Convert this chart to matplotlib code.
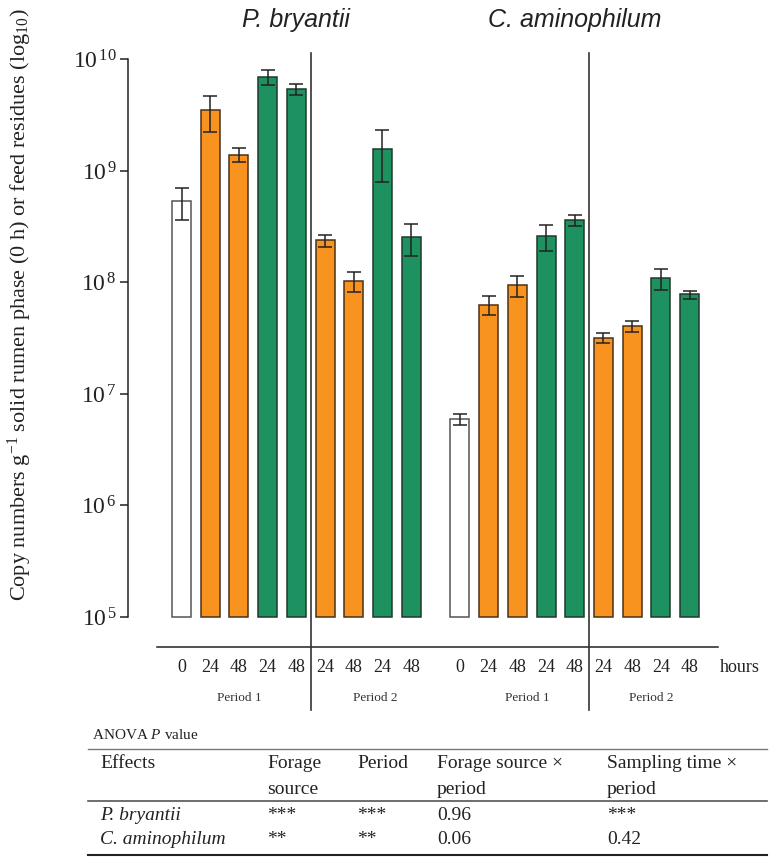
import matplotlib
matplotlib.use("Agg")
import matplotlib.pyplot as plt
import numpy as np
from matplotlib.transforms import blended_transform_factory

plt.rcParams['mathtext.fontset'] = 'custom'
plt.rcParams['mathtext.rm'] = 'Liberation Serif'
plt.rcParams['mathtext.it'] = 'Liberation Serif:italic'
SERIF = 'Liberation Serif'
SANS = 'Liberation Sans'

# ---------------- data ----------------
organisms = ['P. bryantii', 'C. aminophilum']
hours = ['0', '24', '48', '24', '48', '24', '48', '24', '48']
treatment = ['control', 'orange', 'orange', 'green', 'green', 'orange', 'orange', 'green', 'green']
periods = ['Period 1', 'Period 2']

pb_values = [5.3e8, 3.47e9, 1.38e9, 6.95e9, 5.35e9, 2.37e8, 1.03e8, 1.56e9, 2.52e8]
pb_low = [3.6e8, 2.23e9, 1.19e9, 5.9e9, 4.76e9, 2.08e8, 8.1e7, 7.9e8, 1.71e8]
pb_high = [7.0e8, 4.7e9, 1.58e9, 7.96e9, 5.93e9, 2.65e8, 1.24e8, 2.31e9, 3.32e8]

ca_values = [5.94e6, 6.3e7, 9.4e7, 2.58e8, 3.6e8, 3.18e7, 4.03e7, 1.08e8, 7.8e7]
ca_low = [5.3e6, 5.1e7, 7.3e7, 1.91e8, 3.19e8, 2.87e7, 3.58e7, 8.5e7, 7.1e7]
ca_high = [6.55e6, 7.5e7, 1.14e8, 3.24e8, 4.0e8, 3.53e7, 4.49e7, 1.31e8, 8.4e7]

yticks = [1e5, 1e6, 1e7, 1e8, 1e9, 1e10]
ytick_labels = [r'$10^{\,5}$', r'$10^{\,6}$', r'$10^{\,7}$', r'$10^{\,8}$', r'$10^{\,9}$', r'$10^{\,10}$']

table_header1 = ['Effects', 'Forage', 'Period', 'Forage source \u00d7', 'Sampling time \u00d7']
table_header2 = ['', 'source', '', 'period', 'period']
table_rows = [['P. bryantii', '***', '***', '0.96', '***'],
              ['C. aminophilum', '**', '**', '0.06', '0.42']]

# ---------------- style ----------------
colors = {'control': 'white', 'orange': '#F7931E', 'green': '#1E9160'}
edges = {'control': '#555555', 'orange': '#4a3218', 'green': '#1f3a2a'}

W, H = 770, 859
fig = plt.figure(figsize=(W / 100, H / 100), dpi=100)

def fx(px):
    return px / W

def fy(py):
    return 1 - py / H

ax = fig.add_axes([fx(128), fy(647), (718 - 128) / W, (647 - 53) / H])
ax.set_yscale('log')
ax.set_ylim(10 ** 4.731, 10 ** 10.054)
ax.set_xlim(-1.864, 18.69)

group_offsets = [0.0, 9.7]
base = np.arange(9)
width = 0.66

all_values = [pb_values, ca_values]
all_low = [pb_low, ca_low]
all_high = [pb_high, ca_high]

trans_x = blended_transform_factory(ax.transData, fig.transFigure)

for g in range(2):
    xs = base + group_offsets[g]
    vals = np.array(all_values[g])
    lo = np.array(all_low[g])
    hi = np.array(all_high[g])
    heights = vals - 1e5
    ax.bar(xs, heights, width=width, bottom=1e5,
           color=[colors[t] for t in treatment],
           edgecolor=[edges[t] for t in treatment], linewidth=1.1, zorder=2)
    ax.errorbar(xs, vals, yerr=[vals - lo, hi - vals], fmt='none',
                ecolor='#222222', elinewidth=1.1, capsize=5, capthick=1.1, zorder=3)
    # hour labels
    for x, h in zip(xs, hours):
        fig.text(0, fy(668), h, transform=trans_x, ha='center', va='center',
                 fontsize=13, family=SERIF, color='#222222').set_x(x)
    # organism titles
    fig.text(0, fy(20), organisms[g], transform=trans_x, ha='center', va='center',
             fontsize=18, family=SANS, style='italic', color='#222222').set_x(xs.mean())

# period labels
period_x = [2.0, 6.75, 12.05, 16.35]
for i, px_ in enumerate(period_x):
    fig.text(0, fy(698), periods[i % 2], transform=trans_x, ha='center', va='center',
             fontsize=9.5, family=SERIF, color='#333333').set_x(px_)

# hours label
fig.text(0, fy(668), 'hours', transform=trans_x, ha='left', va='center',
         fontsize=13, family=SERIF, color='#222222').set_x(18.76)

# divider lines
for dx in [4.5, 14.2]:
    ax.plot([dx, dx], [1.0, -0.106], transform=blended_transform_factory(ax.transData, ax.transAxes),
            color='#333333', linewidth=1.2, clip_on=False, zorder=4)

# spines
for s in ['top', 'right']:
    ax.spines[s].set_visible(False)
ax.spines['left'].set_bounds(1e5, 1e10)
ax.spines['bottom'].set_bounds(-0.854, 18.69)
ax.spines['left'].set_linewidth(1.1)
ax.spines['bottom'].set_linewidth(1.1)
ax.spines['left'].set_color('#222222')
ax.spines['bottom'].set_color('#222222')

ax.set_xticks([])
ax.set_yticks(yticks)
ax.set_yticklabels(ytick_labels)
ax.yaxis.set_minor_locator(matplotlib.ticker.NullLocator())
ax.tick_params(axis='y', length=6, width=1.1, pad=2, labelsize=17, color='#222222', labelcolor='#222222')

# y label
fig.text(fx(20), fy(305), r'Copy numbers g$^{-1}$ solid rumen phase (0 h) or feed residues (log$_{10}$)',
         rotation=90, ha='center', va='center', fontsize=16, family=SERIF, color='#222222')

# ---------------- table ----------------
fig.text(fx(92), fy(735), r'ANOVA $\mathit{P}$ value', ha='left', va='center',
         fontsize=11, family=SERIF, color='#222222')
fig.add_artist(plt.Line2D([fx(88), fx(767)], [fy(749), fy(749)], color='#777777', linewidth=1.0))
fig.add_artist(plt.Line2D([fx(88), fx(767)], [fy(801), fy(801)], color='#555555', linewidth=1.2))
fig.add_artist(plt.Line2D([fx(88), fx(767)], [fy(855), fy(855)], color='#222222', linewidth=1.5))

col_x = [100, 267, 357, 437, 607]
for c, txt in enumerate(table_header1):
    fig.text(fx(col_x[c]), fy(764), txt, ha='left', va='center', fontsize=14,
             family=SERIF, color='#222222')
for c, txt in enumerate(table_header2):
    if txt:
        fig.text(fx(col_x[c]), fy(789), txt, ha='left', va='center', fontsize=14,
                 family=SERIF, color='#222222')
row_y = [815, 840]
for r, row in enumerate(table_rows):
    for c, txt in enumerate(row):
        fig.text(fx(col_x[c]), fy(row_y[r]), txt, ha='left', va='center', fontsize=14,
                 family=SERIF, style='italic' if c == 0 else 'normal', color='#222222')

fig.savefig('out.png', dpi=100)
